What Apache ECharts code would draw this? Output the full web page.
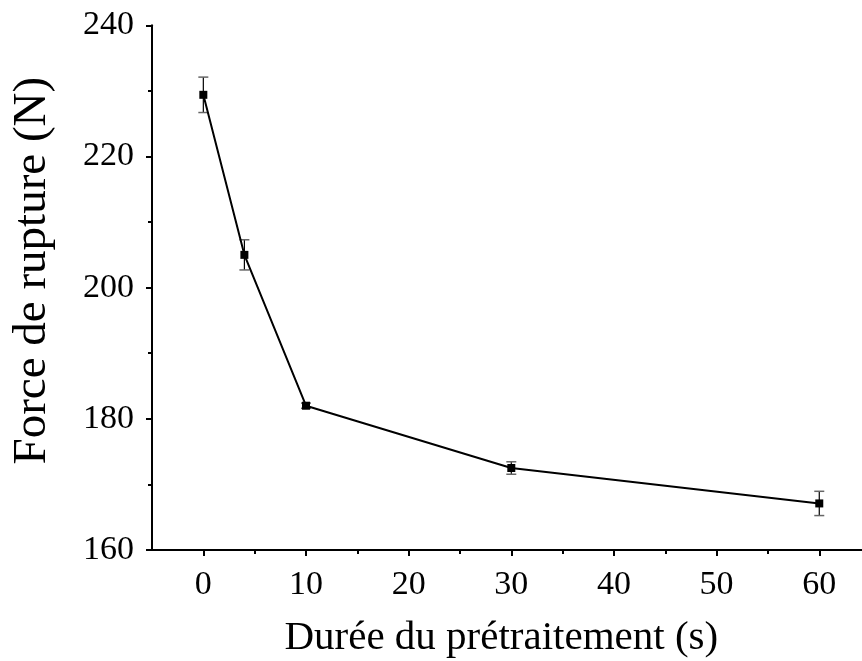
<!DOCTYPE html>
<html>
<head>
<meta charset="utf-8">
<script src="https://cdn.jsdelivr.net/npm/echarts@6/dist/echarts.min.js"></script>
<style>
html,body{margin:0;padding:0;background:#fff;}
#chart{width:862px;height:661px;}
</style>
</head>
<body>
<div id="chart"></div>
<script>
var durations = [0, 4, 10, 30, 60];
var forces = [229.4, 205.0, 182.0, 172.5, 167.1];
var errors = [2.7, 2.3, 0.4, 0.95, 1.85];
var xTicks = [0, 10, 20, 30, 40, 50, 60];
var xMinorTicks = [5, 15, 25, 35, 45, 55, 65];
var yTicks = [160, 180, 200, 220, 240];
var xTitle = 'Durée du prétraitement (s)';
var yTitle = 'Force de rupture (N)';

var FONT = 'Liberation Serif';
var chart = echarts.init(document.getElementById('chart'));

var pointData = durations.map(function (d, i) { return [d, forces[i]]; });
var errData = durations.map(function (d, i) { return [d, forces[i] - errors[i], forces[i] + errors[i]]; });

chart.setOption({
  animation: false,
  backgroundColor: '#fff',
  grid: { left: 152, top: 25.3, width: 718.6, height: 524.7, containLabel: false, outerBoundsMode: 'none' },
  xAxis: [{
    type: 'value', min: -5, max: 65,
    axisLine: { show: true, onZero: false, lineStyle: { color: '#000', width: 2 } },
    axisTick: { show: true, inside: false, length: 6, lineStyle: { color: '#000', width: 2 }, customValues: xTicks },
    axisLabel: { show: true, customValues: xTicks, color: '#000', fontFamily: FONT, fontSize: 34, margin: 18 },
    splitLine: { show: false },
    name: xTitle, nameLocation: 'middle', nameGap: 68,
    nameTextStyle: { color: '#000', fontFamily: FONT, fontSize: 41, padding: [0, 20, 0, 0] }
  }, {
    type: 'value', min: -5, max: 65, position: 'bottom',
    axisLine: { show: false, onZero: false },
    axisTick: { show: true, inside: false, length: 4, lineStyle: { color: '#000', width: 2 }, customValues: xMinorTicks },
    axisLabel: { show: false },
    splitLine: { show: false }
  }],
  yAxis: {
    type: 'value', min: yTicks[0], max: yTicks[yTicks.length - 1], interval: 20,
    axisLine: { show: true, onZero: false, lineStyle: { color: '#000', width: 2 } },
    axisTick: { show: true, inside: false, length: 6, lineStyle: { color: '#000', width: 2 } },
    minorTick: { show: true, splitNumber: 2, length: 4, lineStyle: { color: '#000', width: 2 } },
    axisLabel: { color: '#000', fontFamily: FONT, fontSize: 34, margin: 18 },
    splitLine: { show: false },
    name: yTitle, nameLocation: 'middle', nameGap: 96,
    nameTextStyle: { color: '#000', fontFamily: FONT, fontSize: 47, padding: [0, 0, 0, 34] }
  },
  series: [{
    type: 'custom',
    data: errData,
    z: 2,
    renderItem: function (params, api) {
      var x = api.value(0);
      var lo = api.coord([x, api.value(1)]);
      var hi = api.coord([x, api.value(2)]);
      var w = 5;
      return {
        type: 'group',
        children: [
          { type: 'line', shape: { x1: lo[0], y1: lo[1], x2: hi[0], y2: hi[1] }, style: { stroke: '#000', lineWidth: 1.2 } },
          { type: 'line', shape: { x1: lo[0] - w, y1: lo[1], x2: lo[0] + w, y2: lo[1] }, style: { stroke: '#666', lineWidth: 1.5 } },
          { type: 'line', shape: { x1: hi[0] - w, y1: hi[1], x2: hi[0] + w, y2: hi[1] }, style: { stroke: '#666', lineWidth: 1.5 } }
        ]
      };
    }
  }, {
    type: 'line',
    data: pointData,
    z: 3,
    symbol: 'rect', symbolSize: 8,
    itemStyle: { color: '#000' },
    lineStyle: { color: '#000', width: 2 }
  }]
});
</script>
</body>
</html>
